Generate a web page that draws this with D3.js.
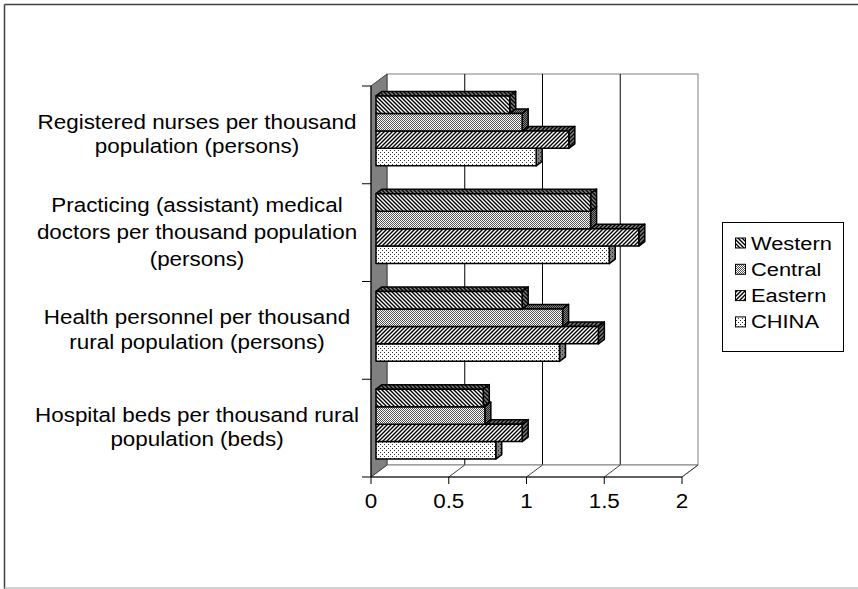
<!DOCTYPE html>
<html>
<head>
<meta charset="utf-8">
<script src="https://cdn.jsdelivr.net/npm/d3@7"></script>
<style>
  body { margin: 0; background: #fff; }
  svg { display: block; }
  text { font-family: "Liberation Sans", Arial, sans-serif; fill: #000; }
</style>
</head>
<body>
<svg width="858" height="589"></svg>
<script>
// data
var categories = ["nurses", "doctors", "personnel", "beds"];
var categoryLines = [
    ["Registered nurses per thousand", "population (persons)"],
    ["Practicing (assistant) medical", "doctors per thousand population", "(persons)"],
    ["Health personnel per thousand", "rural population (persons)"],
    ["Hospital beds per thousand rural", "population (beds)"]
];
var series = ["Western", "Central", "Eastern", "CHINA"];
var western = [0.86, 1.38, 0.94, 0.69];
var central = [0.94, 1.38, 1.20, 0.70];
var eastern = [1.24, 1.69, 1.43, 0.94];
var china   = [1.03, 1.50, 1.18, 0.77];
var xTicks = [0, 0.5, 1, 1.5, 2];

var values = { Western: western, Central: central, Eastern: eastern, CHINA: china };

var svg = d3.select("svg");
var defs = svg.append("defs");

// 3D look: depth of the plot box and depth of the bars
var depthX = 16, depthY = 12;
var barOffX = 5, barOffY = 4;
var barDX = 6, barDY = 4.5;

var x = d3.scaleLinear().domain([0, 2]).range([371, 682]);
var yCat = d3.scaleBand().domain(categories).range([86, 477]).paddingInner(0.284).paddingOuter(0.142);
var ySer = d3.scaleBand().domain(series).range([0, yCat.bandwidth()]);

var yTop = 86, yBottom = 477;
var sx = 1.15; // text in the picture is stretched a bit

// fill patterns
function pattern(id, size, bg, draw) {
    var p = defs.append("pattern").attr("id", id).attr("patternUnits", "userSpaceOnUse")
        .attr("width", size).attr("height", size);
    p.append("rect").attr("width", size).attr("height", size).attr("fill", bg);
    draw(p);
}
function back(p, col) {
    p.append("path").attr("d", "M0,0L4,4M-1,3L1,5M3,-1L5,1").attr("stroke", col).attr("stroke-width", 1.4);
}
function fwd(p, col) {
    p.append("path").attr("d", "M0,4L4,0M-1,1L1,-1M3,5L5,3").attr("stroke", col).attr("stroke-width", 1.4);
}
function checker(p, col) {
    p.append("rect").attr("x", 0).attr("y", 0).attr("width", 1).attr("height", 1).attr("fill", col);
    p.append("rect").attr("x", 1).attr("y", 1).attr("width", 1).attr("height", 1).attr("fill", col);
}
function dots(p, col) {
    p.append("rect").attr("x", 0).attr("y", 0).attr("width", 1).attr("height", 1).attr("fill", col);
    p.append("rect").attr("x", 2).attr("y", 2).attr("width", 1).attr("height", 1).attr("fill", col);
}
pattern("p-Western", 4, "#fff", function (p) { back(p, "#000"); });
pattern("p-Central", 2, "#fff", function (p) { checker(p, "#555"); });
pattern("p-Eastern", 4, "#fff", function (p) { fwd(p, "#000"); });
pattern("p-CHINA", 4, "#fff", function (p) { dots(p, "#333"); });
pattern("d-Western", 4, "#808080", function (p) { back(p, "#000"); });
pattern("d-Central", 2, "#808080", function (p) { checker(p, "#222"); });
pattern("d-Eastern", 4, "#808080", function (p) { fwd(p, "#000"); });
pattern("d-CHINA", 4, "#808080", function (p) { dots(p, "#222"); });

// back wall
var g = svg.append("g");
g.append("rect").attr("x", x(0) + depthX).attr("y", yTop - depthY)
    .attr("width", x(2) - x(0)).attr("height", yBottom - yTop)
    .attr("fill", "#fff").attr("stroke", "#808080");
g.selectAll("line.grid").data(xTicks.slice(1, -1)).enter().append("line")
    .attr("x1", function (d) { return x(d) + depthX; })
    .attr("x2", function (d) { return x(d) + depthX; })
    .attr("y1", yTop - depthY).attr("y2", yBottom - depthY)
    .attr("stroke", "#000");

// floor
g.append("path")
    .attr("d", "M" + x(0) + "," + yBottom + "L" + (x(0) + depthX) + "," + (yBottom - depthY) +
        "L" + (x(2) + depthX) + "," + (yBottom - depthY) + "L" + x(2) + "," + yBottom + "Z")
    .attr("fill", "#fff").attr("stroke", "#808080");
g.selectAll("line.floor").data(xTicks.slice(1)).enter().append("line")
    .attr("x1", function (d) { return x(d); })
    .attr("x2", function (d) { return x(d) + depthX; })
    .attr("y1", yBottom).attr("y2", yBottom - depthY)
    .attr("stroke", "#404040");

// left wall
g.append("path")
    .attr("d", "M" + x(0) + "," + yTop + "L" + (x(0) + depthX) + "," + (yTop - depthY) +
        "L" + (x(0) + depthX) + "," + (yBottom - depthY) + "L" + x(0) + "," + yBottom + "Z")
    .attr("fill", "#808080").attr("stroke", "#404040");

// bars, drawn bottom-up so upper bars cover the top faces below
var bars = [];
categories.forEach(function (c, i) {
    series.forEach(function (s) {
        bars.push({ cat: c, ser: s, v: values[s][i] });
    });
});
bars.reverse();

var bg = svg.append("g").attr("stroke", "#000").attr("stroke-width", 1.5).attr("stroke-linejoin", "round");
bars.forEach(function (d) {
    var x0 = x(0) + barOffX, x1 = x(d.v) + barOffX;
    var y0 = yCat(d.cat) + ySer(d.ser) - barOffY, h = ySer.bandwidth();
    bg.append("path")
        .attr("d", "M" + x0 + "," + y0 + "L" + (x0 + barDX) + "," + (y0 - barDY) + "L" + (x1 + barDX) + "," + (y0 - barDY) + "L" + x1 + "," + y0 + "Z")
        .attr("fill", "url(#d-" + d.ser + ")");
    bg.append("path")
        .attr("d", "M" + x1 + "," + y0 + "L" + (x1 + barDX) + "," + (y0 - barDY) + "L" + (x1 + barDX) + "," + (y0 + h - barDY) + "L" + x1 + "," + (y0 + h) + "Z")
        .attr("fill", "url(#d-" + d.ser + ")");
    bg.append("rect").attr("x", x0).attr("y", y0).attr("width", x1 - x0).attr("height", h)
        .attr("fill", "url(#p-" + d.ser + ")");
});

// front axes
var ax = svg.append("g").attr("stroke", "#000");
ax.append("line").attr("x1", x(0)).attr("x2", x(2)).attr("y1", yBottom).attr("y2", yBottom);
ax.append("line").attr("x1", x(0)).attr("x2", x(0)).attr("y1", yTop).attr("y2", yBottom);
ax.selectAll("line.xt").data(xTicks).enter().append("line")
    .attr("x1", function (d) { return x(d); }).attr("x2", function (d) { return x(d); })
    .attr("y1", yBottom).attr("y2", yBottom + 7);
var yEdges = categories.map(function (c) { return yCat(c) - yCat.step() * yCat.paddingOuter(); });
yEdges.push(yBottom);
ax.selectAll("line.yt").data(yEdges).enter().append("line")
    .attr("x1", x(0) - 9).attr("x2", x(0))
    .attr("y1", function (d) { return d; }).attr("y2", function (d) { return d; });

function label(parent, tx, ty, str, size, anchor) {
    parent.append("text")
        .attr("transform", "translate(" + tx + "," + ty + ") scale(" + sx + ",1)")
        .attr("text-anchor", anchor)
        .style("font-size", size + "px")
        .text(str);
}

var tl = svg.append("g");
xTicks.forEach(function (d) { label(tl, x(d), 508, d3.format("")(d), 19.5, "middle"); });

categories.forEach(function (c, i) {
    var lines = categoryLines[i];
    var lh = lines.length > 2 ? 27 : 24.5;
    var mid = yCat(c) + yCat.bandwidth() / 2;
    var first = mid - (lines.length - 1) * lh / 2 + 6;
    lines.forEach(function (t, j) { label(tl, 197, first + j * lh, t, 19.5, "middle"); });
});

// legend
var lg = svg.append("g");
lg.append("rect").attr("x", 722.5).attr("y", 222.5).attr("width", 121).attr("height", 129)
    .attr("fill", "#fff").attr("stroke", "#000");
series.forEach(function (s, i) {
    var cy = 243 + i * 26.3;
    lg.append("rect").attr("x", 735.5).attr("y", cy - 5).attr("width", 10).attr("height", 10)
        .attr("fill", "url(#p-" + s + ")").attr("stroke", "#000");
    label(lg, 751, cy + 6.5, s, 19, "start");
});

// outer frame
svg.append("line").attr("x1", 4.5).attr("x2", 858).attr("y1", 4.5).attr("y2", 4.5).attr("stroke", "#404040").attr("stroke-width", 1.5);
svg.append("line").attr("x1", 4.5).attr("x2", 4.5).attr("y1", 4.5).attr("y2", 589).attr("stroke", "#404040").attr("stroke-width", 1.5);
svg.append("line").attr("x1", 4.5).attr("x2", 858).attr("y1", 588).attr("y2", 588).attr("stroke", "#c0c0c0").attr("stroke-width", 1.5);
</script>
</body>
</html>
